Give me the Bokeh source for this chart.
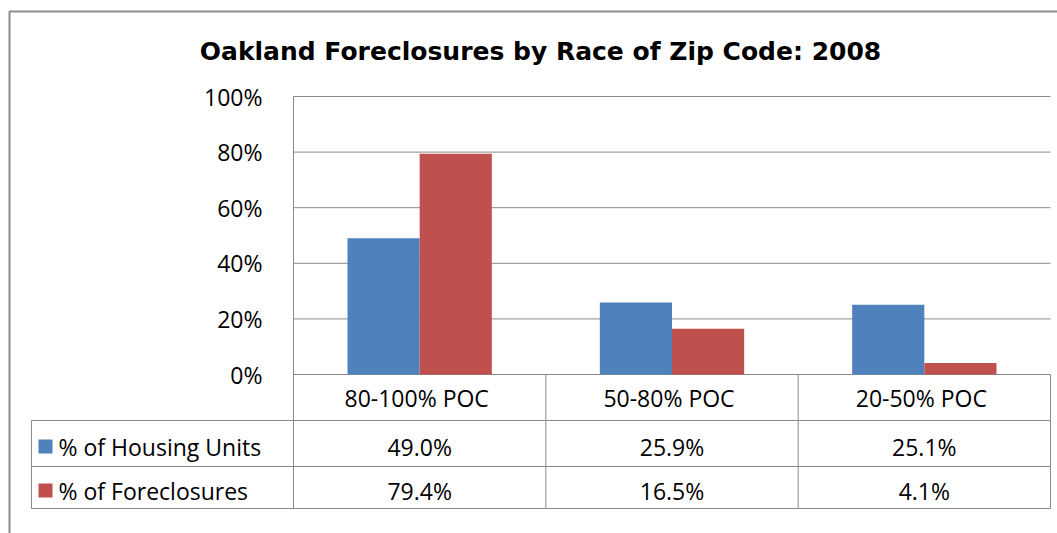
from bokeh.plotting import figure
from bokeh.models import Range1d, LinearAxis, FixedTicker, PrintfTickFormatter
from bokeh.core.properties import value
from bokeh.embed import file_html
from bokeh.resources import INLINE

# ---------------- data ----------------
categories = ["80-100%  POC", "50-80%  POC", "20-50%  POC"]
series_names = ["%  of Housing Units", "%  of Foreclosures"]
housing = [49.0, 25.9, 25.1]
foreclosures = [79.4, 16.5, 4.1]
y_ticks = [0, 20, 40, 60, 80, 100]
title_text = "Oakland Foreclosures by Race of Zip Code: 2008"

# ---------------- layout / style ----------------
W, H = 1057, 533
OFF = 0
U = 252.33              # px per category
PPP = 2.78              # px per percent
AX_X, ZERO_Y = 293, 374 # reference pixel position of axis and zero line
BLUE, RED = "#4f81bd", "#c0504d"
GRAY = "#8a8a8a"
FONT = "Open Sans"
FS = "23px"
BAR_W = 0.286

def xd(px):
    return -0.5 + (px - AX_X) / U

def yd(py):
    return (ZERO_Y - py) / PPP

p = figure(width=W, height=H, output_backend="svg", toolbar_location=None,
           x_range=Range1d(xd(OFF), xd(OFF + W)),
           y_range=Range1d(yd(OFF + H), yd(OFF)),
           min_border=0, outline_line_color=None,
           x_axis_location=None, y_axis_location=None,
           background_fill_color="white", border_fill_color="white")
p.grid.visible = False

n = len(categories)
xs = list(range(n))
left, right = -0.5, n - 0.5

# outer chart-area border (top + left)
p.line([xd(9), xd(9), xd(1070)], [yd(540), yd(11), yd(11)],
       line_color="#8c8c8c", line_width=2)

# title
p.text(x=[xd(540)], y=[yd(51)], text=[title_text], text_font=value("DejaVu Sans"),
       text_font_style="bold", text_font_size="25px", text_color="black",
       text_align="center", text_baseline="middle")

# gridlines
p.segment(x0=[left] * len(y_ticks), x1=[right] * len(y_ticks), y0=y_ticks, y1=y_ticks,
          line_color=GRAY, line_width=1)

# bars
p.vbar(x=[x - BAR_W / 2 for x in xs], top=housing, bottom=0, width=BAR_W,
       fill_color=BLUE, line_color=None)
p.vbar(x=[x + BAR_W / 2 for x in xs], top=foreclosures, bottom=0, width=BAR_W,
       fill_color=RED, line_color=None)

# y axis (placed at the plot-area edge)
ax = LinearAxis(fixed_location=left, ticker=FixedTicker(ticks=y_ticks),
                formatter=PrintfTickFormatter(format="%d%%"),
                axis_line_color=None, major_tick_line_color=None,
                minor_tick_line_color=None, major_label_standoff=25,
                major_label_text_font=FONT, major_label_text_font_size=FS,
                major_label_text_color="black")
p.add_layout(ax, "left")

# data table
row_top = [0, yd(420), yd(466)]
row_bot = [yd(420), yd(466), yd(508)]
tab_left = xd(31)
# vertical axis line through table
p.segment(x0=[left], x1=[left], y0=[max(y_ticks)], y1=[row_bot[-1]], line_color=GRAY, line_width=1)
# column separators
p.segment(x0=[x + 0.5 for x in xs], x1=[x + 0.5 for x in xs], y0=[0] * n, y1=[row_bot[-1]] * n,
          line_color=GRAY, line_width=1)
# horizontal lines
p.segment(x0=[tab_left] * 3, x1=[right] * 3, y0=row_bot, y1=row_bot, line_color=GRAY, line_width=1)
p.segment(x0=[tab_left], x1=[tab_left], y0=[row_top[1]], y1=[row_bot[-1]], line_color=GRAY, line_width=1)

# category labels
p.text(x=xs, y=[yd(397)] * n, text=categories, text_font=value(FONT), text_font_size=FS,
       text_color="black", text_align="center", text_baseline="middle")

# series rows
for i, (name, vals, col) in enumerate(zip(series_names, [housing, foreclosures], [BLUE, RED])):
    ymid = yd([446, 490][i])
    p.scatter(x=[xd(45)], y=[ymid], marker="square", size=14, fill_color=col, line_color=None)
    p.text(x=[xd(58)], y=[ymid], text=[name], text_font=value(FONT), text_font_size=FS,
           text_color="black", text_align="left", text_baseline="middle")
    p.text(x=xs, y=[ymid] * n, text=[f"{v:.1f}%" for v in vals], text_font=value(FONT),
           text_font_size=FS, text_color="black", text_align="center", text_baseline="middle")

open("out.html", "w").write(file_html(p, INLINE))
